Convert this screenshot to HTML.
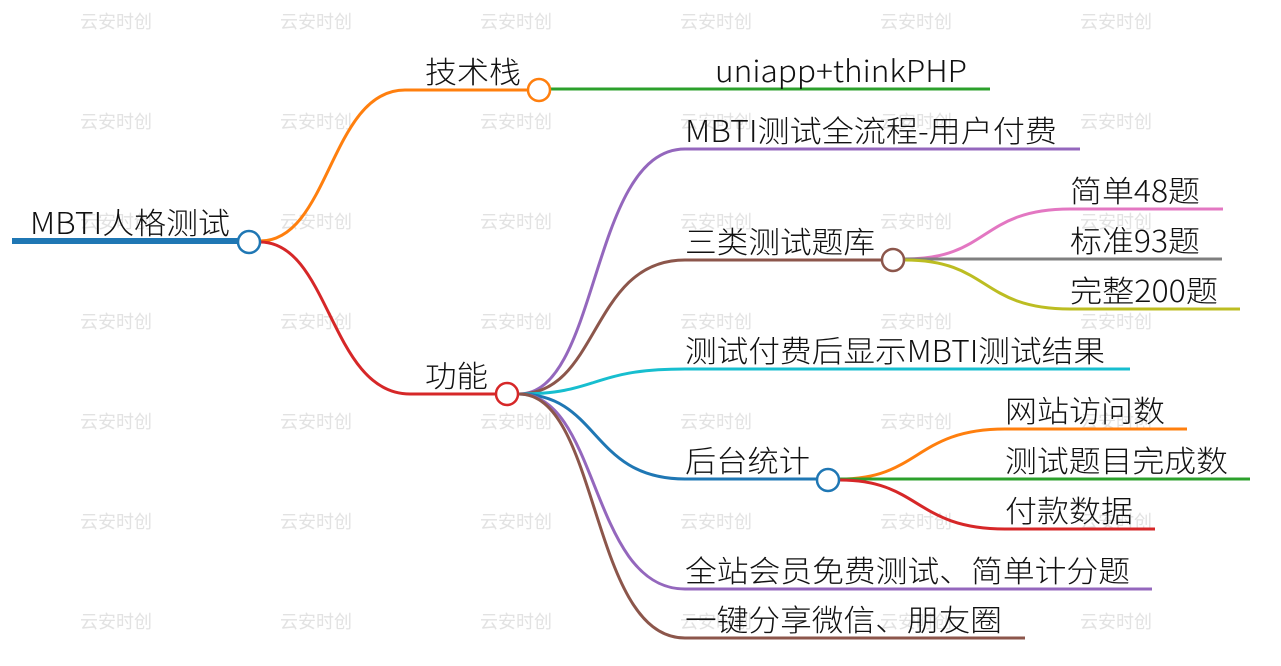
<!DOCTYPE html>
<html><head><meta charset="utf-8"><style>
html,body{margin:0;padding:0;background:#fff;}
svg{display:block;}
text{font-family:"Noto Sans CJK SC","Liberation Sans",sans-serif;}
.l{font-size:30px;fill:#111;font-weight:300;}
.w{font-size:18px;fill:#e2e2e2;}
path{fill:none;stroke-width:3;}
circle{fill:#fff;stroke-width:2.5;}
</style></head><body>
<svg width="1281" height="666" viewBox="0 0 1281 666">
<g class="wm">
<text class="w" x="80" y="28">云安时创</text><text class="w" x="280" y="28">云安时创</text><text class="w" x="480" y="28">云安时创</text><text class="w" x="680" y="28">云安时创</text><text class="w" x="880" y="28">云安时创</text><text class="w" x="1080" y="28">云安时创</text>
<text class="w" x="80" y="128">云安时创</text><text class="w" x="280" y="128">云安时创</text><text class="w" x="480" y="128">云安时创</text><text class="w" x="680" y="128">云安时创</text><text class="w" x="880" y="128">云安时创</text><text class="w" x="1080" y="128">云安时创</text>
<text class="w" x="80" y="228">云安时创</text><text class="w" x="280" y="228">云安时创</text><text class="w" x="480" y="228">云安时创</text><text class="w" x="680" y="228">云安时创</text><text class="w" x="880" y="228">云安时创</text><text class="w" x="1080" y="228">云安时创</text>
<text class="w" x="80" y="328">云安时创</text><text class="w" x="280" y="328">云安时创</text><text class="w" x="480" y="328">云安时创</text><text class="w" x="680" y="328">云安时创</text><text class="w" x="880" y="328">云安时创</text><text class="w" x="1080" y="328">云安时创</text>
<text class="w" x="80" y="428">云安时创</text><text class="w" x="280" y="428">云安时创</text><text class="w" x="480" y="428">云安时创</text><text class="w" x="680" y="428">云安时创</text><text class="w" x="880" y="428">云安时创</text><text class="w" x="1080" y="428">云安时创</text>
<text class="w" x="80" y="528">云安时创</text><text class="w" x="280" y="528">云安时创</text><text class="w" x="480" y="528">云安时创</text><text class="w" x="680" y="528">云安时创</text><text class="w" x="880" y="528">云安时创</text><text class="w" x="1080" y="528">云安时创</text>
<text class="w" x="80" y="628">云安时创</text><text class="w" x="280" y="628">云安时创</text><text class="w" x="480" y="628">云安时创</text><text class="w" x="680" y="628">云安时创</text><text class="w" x="880" y="628">云安时创</text><text class="w" x="1080" y="628">云安时创</text>
</g>
<path d="M12 241 H238" stroke="#1f77b4" style="stroke-width:6"/>
<path d="M260 241 C330 241 330 90 405 90 H527" stroke="#ff7f0e"/>
<path d="M551 89 H990" stroke="#2ca02c"/>
<path d="M260 242 C330 242 330 394 410 394 H495" stroke="#d62728"/>
<path d="M519 394 C600 394 590 149 685 149 H1080" stroke="#9467bd"/>
<path d="M519 394 C600 394 590 260 685 260 H881" stroke="#8c564b"/>
<path d="M519 394 C600 394 590 369 685 369 H1130" stroke="#17becf"/>
<path d="M519 394 C600 394 590 479 685 479 H816" stroke="#1f77b4"/>
<path d="M519 394 C600 394 590 589 685 589 H1152" stroke="#9467bd"/>
<path d="M519 394 C600 394 590 638 685 638 H1025" stroke="#8c564b"/>
<path d="M905 259 C990 259 980 209 1070 209 H1223" stroke="#e377c2"/>
<path d="M905 259 H1222" stroke="#7f7f7f"/>
<path d="M905 260 C990 260 980 309 1070 309 H1240" stroke="#bcbd22"/>
<path d="M840 479 C920 479 915 429 1005 429 H1187" stroke="#ff7f0e"/>
<path d="M840 479 H1250" stroke="#2ca02c"/>
<path d="M840 480 C920 480 915 529 1005 529 H1155" stroke="#d62728"/>
<circle cx="249" cy="242" r="11" stroke="#1f77b4"/>
<circle cx="539" cy="90" r="11" stroke="#ff7f0e"/>
<circle cx="507" cy="394" r="11" stroke="#d62728"/>
<circle cx="893" cy="260" r="11" stroke="#8c564b"/>
<circle cx="828" cy="480" r="11" stroke="#1f77b4"/>
<text class="l" x="30" y="234" textLength="200" lengthAdjust="spacingAndGlyphs">MBTI人格测试</text>
<text class="l" x="425" y="83" textLength="96" lengthAdjust="spacingAndGlyphs">技术栈</text>
<text class="l" x="715" y="82" textLength="252" lengthAdjust="spacingAndGlyphs">uniapp+thinkPHP</text>
<text class="l" x="425" y="387" textLength="63" lengthAdjust="spacingAndGlyphs">功能</text>
<text class="l" x="685" y="142" textLength="372" lengthAdjust="spacingAndGlyphs">MBTI测试全流程-用户付费</text>
<text class="l" x="685" y="253" textLength="190" lengthAdjust="spacingAndGlyphs">三类测试题库</text>
<text class="l" x="1070" y="202" textLength="130" lengthAdjust="spacingAndGlyphs">简单48题</text>
<text class="l" x="1070" y="252" textLength="130" lengthAdjust="spacingAndGlyphs">标准93题</text>
<text class="l" x="1070" y="302" textLength="148" lengthAdjust="spacingAndGlyphs">完整200题</text>
<text class="l" x="685" y="362" textLength="420" lengthAdjust="spacingAndGlyphs">测试付费后显示MBTI测试结果</text>
<text class="l" x="685" y="472" textLength="125" lengthAdjust="spacingAndGlyphs">后台统计</text>
<text class="l" x="1005" y="422" textLength="160" lengthAdjust="spacingAndGlyphs">网站访问数</text>
<text class="l" x="1005" y="472" textLength="223" lengthAdjust="spacingAndGlyphs">测试题目完成数</text>
<text class="l" x="1005" y="522" textLength="128" lengthAdjust="spacingAndGlyphs">付款数据</text>
<text class="l" x="685" y="582" textLength="445" lengthAdjust="spacingAndGlyphs">全站会员免费测试、简单计分题</text>
<text class="l" x="685" y="631" textLength="317" lengthAdjust="spacingAndGlyphs">一键分享微信、朋友圈</text>
</svg>
</body></html>
